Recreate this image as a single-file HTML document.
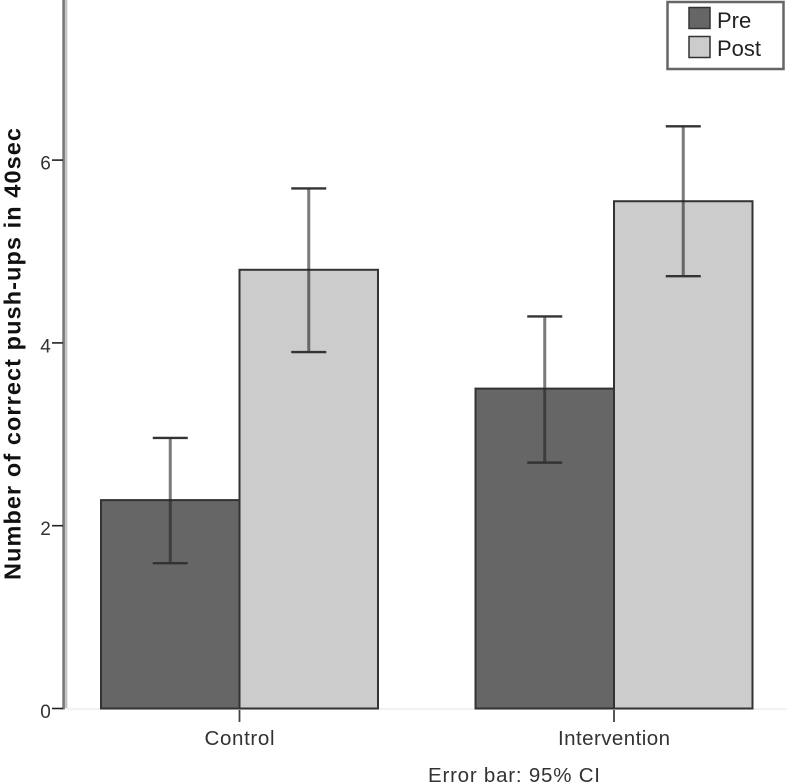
<!DOCTYPE html>
<html>
<head>
<meta charset="utf-8">
<style>
html,body{margin:0;padding:0;background:#fff;}
svg{display:block;}
text{font-family:"Liberation Sans",sans-serif;}
</style>
</head>
<body>
<svg id="chart" width="787" height="784" viewBox="0 0 787 784" xmlns="http://www.w3.org/2000/svg"></svg>
<script>
const categories = ["Control", "Intervention"];
const seriesNames = ["Pre", "Post"];
const preValues = [2.28, 3.5];
const postValues = [4.8, 5.55];
const preLower = [1.59, 2.69];
const preUpper = [2.96, 4.29];
const postLower = [3.9, 4.73];
const postUpper = [5.69, 6.37];
const yTicks = [0, 2, 4, 6];

const NS = "http://www.w3.org/2000/svg";
const svg = document.getElementById("chart");
const y = v => 708.5 - v * 91.4;
const x = i => 239.5 + i * 374.5;
const BAR_W = 138.5;
const fills = ["#666666", "#cccccc"];
const labelWidths = [70, 112];

function add(tag, attrs, text) {
  const el = document.createElementNS(NS, tag);
  for (const k in attrs) el.setAttribute(k, attrs[k]);
  if (text !== undefined) el.textContent = text;
  svg.appendChild(el);
  return el;
}

// x axis faint baseline
const baseline = add("line", {x1: 66, x2: 787, y1: 709, y2: 709, stroke: "#eeeeee", "stroke-width": 1.5});



// y axis
const axisDark = add("line", {x1: 63.6, x2: 63.6, y1: 0, y2: 709.5, stroke: "#777777", "stroke-width": 2.6});


const axisLight = add("line", {x1: 66.2, x2: 66.2, y1: 0, y2: 708, stroke: "#c4c4c4", "stroke-width": 2.4});



yTicks.forEach(t => {
  const tick = add("line", {x1: 52, x2: 63, y1: y(t), y2: y(t), stroke: "#222222", "stroke-width": 1.6});
  
  
  const label = add("text", {x: 45.5, y: y(t) + 9.5, "text-anchor": "middle", "font-size": 19, fill: "#333333"}, String(t));
  
  
});

const yTitle = add("text", {x: 0, y: 0, transform: "translate(20.5,354) rotate(-90)", "text-anchor": "middle", "font-size": 23.5, "font-weight": "bold", fill: "#111111", textLength: 452, lengthAdjust: "spacing"}, "Number of correct push-ups in 40sec");



function drawBar(i, s, value) {
  const left = s === 0 ? x(i) - BAR_W : x(i);
  const bar = add("rect", {x: left, y: y(value), width: BAR_W, height: y(0) - y(value), fill: fills[s], stroke: "#333333", "stroke-width": 2});
  
  
}
function drawError(i, s, lo, hi) {
  const cx = s === 0 ? x(i) - BAR_W / 2 : x(i) + BAR_W / 2;
  const prefix = "error-bar-" + categories[i].toLowerCase() + "-" + seriesNames[s].toLowerCase();
  const stem = add("line", {x1: cx, x2: cx, y1: y(hi), y2: y(lo), stroke: "#222222", "stroke-opacity": 0.6, "stroke-width": 3});
  
  
  const capTop = add("line", {x1: cx - 17.5, x2: cx + 17.5, y1: y(hi), y2: y(hi), stroke: "#333333", "stroke-width": 2.4});
  
  
  const capBottom = add("line", {x1: cx - 17.5, x2: cx + 17.5, y1: y(lo), y2: y(lo), stroke: "#333333", "stroke-width": 2.4});
  
  
}

categories.forEach((c, i) => {
  drawBar(i, 0, preValues[i]);
  drawBar(i, 1, postValues[i]);
});
categories.forEach((c, i) => {
  drawError(i, 0, preLower[i], preUpper[i]);
  drawError(i, 1, postLower[i], postUpper[i]);
  const tick = add("line", {x1: x(i), x2: x(i), y1: 710, y2: 722, stroke: "#444444", "stroke-width": 1.8});
  
  
  const label = add("text", {x: x(i), y: 745, "text-anchor": "middle", "font-size": 20.5, fill: "#333333", textLength: labelWidths[i], lengthAdjust: "spacing"}, c);
  
  
});

const note = add("text", {x: 428, y: 782, "font-size": 20.5, fill: "#333333", textLength: 172, lengthAdjust: "spacing"}, "Error bar: 95% CI");



// legend
const legendBox = add("rect", {x: 667.5, y: 2, width: 116, height: 67, fill: "#ffffff", stroke: "#666666", "stroke-width": 2.5});


seriesNames.forEach((n, s) => {
  const swatch = add("rect", {x: 689, y: 7.5 + s * 29, width: 21, height: 21, fill: fills[s], stroke: "#333333", "stroke-width": 1.5});
  
  
  const label = add("text", {x: 717, y: 28 + s * 28, "font-size": 22, fill: "#222222"}, n);
  
  
});
</script>
</body>
</html>
